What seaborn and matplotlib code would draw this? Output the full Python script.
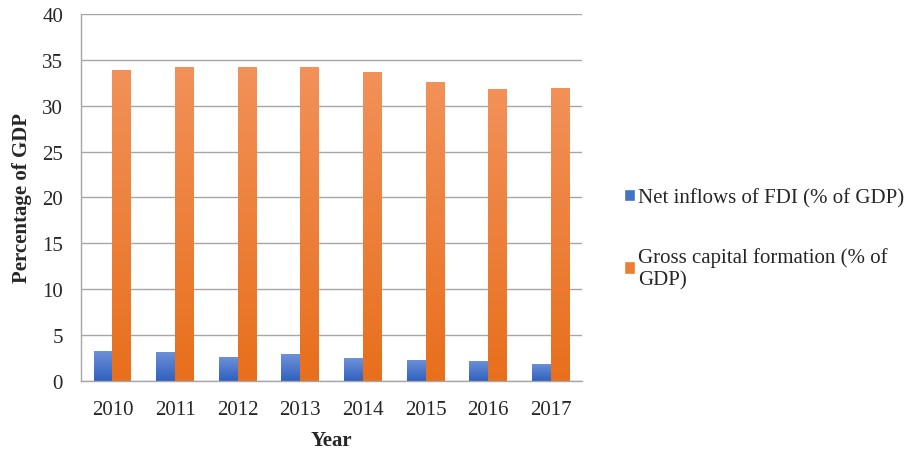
import numpy as np
import pandas as pd
import seaborn as sns
import matplotlib.pyplot as plt
from matplotlib.colors import LinearSegmentedColormap
from matplotlib.patches import Patch

years = ['2010', '2011', '2012', '2013', '2014', '2015', '2016', '2017']
fdi = [3.3, 3.2, 2.65, 2.9, 2.45, 2.3, 2.2, 1.9]
gcf = [33.9, 34.2, 34.2, 34.2, 33.7, 32.6, 31.8, 31.9]
series = ['Net inflows of FDI (% of GDP)', 'Gross capital formation (% of GDP)']
legend_labels = ['Net inflows of FDI (% of GDP)', 'Gross capital formation (% of\nGDP)']

df = pd.DataFrame({
    'Year': years * 2,
    'value': fdi + gcf,
    'series': [series[0]] * len(years) + [series[1]] * len(years),
})

sns.set_style('white')
plt.rcParams['font.family'] = ['Liberation Serif', 'DejaVu Serif']

fig = plt.figure(figsize=(9.11, 4.52), dpi=100)
ax = fig.add_axes([0.089, 0.155, 0.55, 0.812])

palette = {series[0]: '#4472C4', series[1]: '#ED7D31'}
sns.barplot(data=df, x='Year', y='value', hue='series', palette=palette,
            width=0.6, ax=ax, legend=False, saturation=1)

# gradient fill, lighter at top like the Excel style
grads = [LinearSegmentedColormap.from_list('b', ['#2f60c0', '#6f92d8']),
         LinearSegmentedColormap.from_list('o', ['#e86f1c', '#f29159'])]
for cont, cmap in zip(ax.containers, grads):
    for bar in cont:
        x, w, h = bar.get_x(), bar.get_width(), bar.get_height()
        bar.set_facecolor('none')
        bar.set_edgecolor('none')
        g = np.linspace(0, 1, 256).reshape(-1, 1)
        im = ax.imshow(g, cmap=cmap, origin='lower', aspect='auto',
                       extent=[x, x + w, 0, h], zorder=2)
        im.set_clip_path(bar)
ax.set_ylim(0, 40)
ax.set_xlim(-0.5, len(years) - 0.5)

ax.set_yticks(range(0, 41, 5))
ax.yaxis.grid(True, color='#a6a6a6', linewidth=1)
ax.set_axisbelow(True)
for s in ['top', 'right']:
    ax.spines[s].set_visible(False)
for s in ['left', 'bottom']:
    ax.spines[s].set_color('#a6a6a6')
    ax.spines[s].set_linewidth(1)
ax.tick_params(axis='both', labelsize=15, length=0)
ax.tick_params(axis='y', pad=13)
ax.tick_params(axis='x', pad=14)

ax.set_xlabel('Year', fontsize=15, fontweight='bold', labelpad=8)
ax.set_ylabel('Percentage of GDP', fontsize=15, fontweight='bold', labelpad=7)

handles = [Patch(facecolor='#4472C4'), Patch(facecolor='#ED7D31')]
fig.legend(handles, legend_labels, loc='center left', bbox_to_anchor=(0.664, 0.47),
           frameon=False, fontsize=15, handlelength=0.55, handleheight=0.55,
           handletextpad=0.15, labelspacing=1.9)

fig.savefig('out.png', dpi=100)
